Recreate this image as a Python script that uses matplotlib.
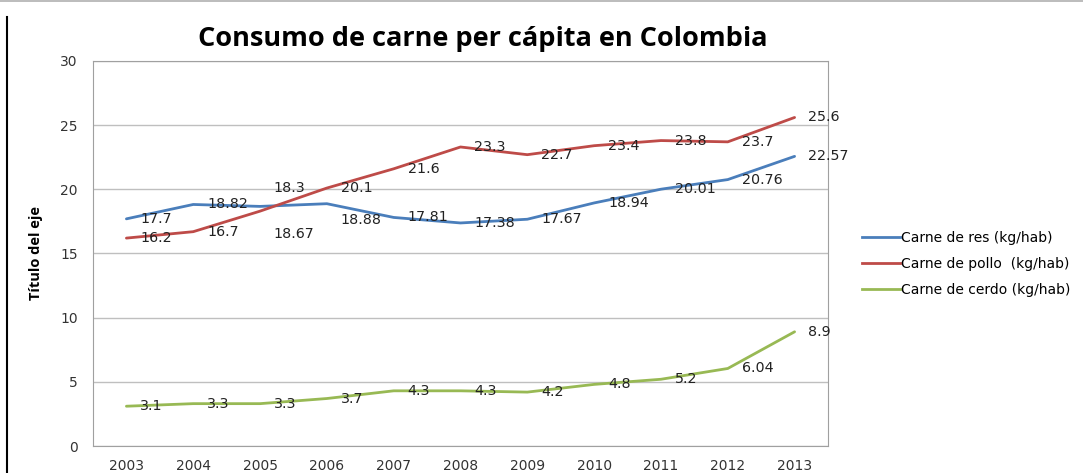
import matplotlib.pyplot as plt
from matplotlib.lines import Line2D

years = ['2003', '2004', '2005', '2006', '2007', '2008', '2009', '2010', '2011', '2012', '2013']
res = [17.7, 18.82, 18.67, 18.88, 17.81, 17.38, 17.67, 18.94, 20.01, 20.76, 22.57]
pollo = [16.2, 16.7, 18.3, 20.1, 21.6, 23.3, 22.7, 23.4, 23.8, 23.7, 25.6]
cerdo = [3.1, 3.3, 3.3, 3.7, 4.3, 4.3, 4.2, 4.8, 5.2, 6.04, 8.9]
names = ['Carne de res (kg/hab)', 'Carne de pollo  (kg/hab)', 'Carne de cerdo (kg/hab)']
colors = ['#4A7EBB', '#BE4B48', '#98B954']

# label offsets in points (a few labels were moved by hand in the original)
special = {(0, 2): (10, -20), (0, 3): (10, -12), (1, 2): (10, 17)}

fig = plt.figure(figsize=(10.83, 4.73), dpi=100)
ax = fig.add_axes([93 / 1083, 1 - 446 / 473, (828 - 93) / 1083, (446 - 61) / 473])

x = range(len(years))
for s, (vals, name, c) in enumerate(zip([res, pollo, cerdo], names, colors)):
    ax.plot(x, vals, color=c, linewidth=2, label=name, solid_capstyle='round')
    for i, v in enumerate(vals):
        dx, dy = special.get((s, i), (10, 0))
        ax.annotate(f'{v:g}', (i, v), xytext=(dx, dy), textcoords='offset points',
                    ha='left', va='center', fontsize=10.3, color='#222222')

ax.set_xlim(-0.5, len(years) - 0.5)
ax.set_ylim(0, 30)
ax.set_yticks(range(0, 31, 5))
ax.set_xticks(list(x))
ax.set_xticklabels(years)
ax.tick_params(length=0, labelsize=10, colors='#333333', pad=9)
ax.tick_params(axis='y', pad=11)
ax.grid(axis='y', color='#BFBFBF', linewidth=1)
ax.set_axisbelow(True)
for sp in ax.spines.values():
    sp.set_color('#A0A0A0')

ax.set_ylabel('Título del eje', fontsize=10.5, fontweight='bold', family='Open Sans', labelpad=12)
fig.text(0.446, 0.918, 'Consumo de carne per cápita en Colombia', ha='center', va='center',
         fontsize=19.5, fontweight='bold', family='Open Sans')

handles = [Line2D([], [], color=c, linewidth=2) for c in colors]
fig.legend(handles, names, loc='center left', bbox_to_anchor=(850 / 1083, 1 - 264 / 473),
           frameon=False, fontsize=10, handlelength=2.7, handletextpad=0.1, labelspacing=0.85)

# page border lines
fig.add_artist(Line2D([0, 1], [1 - 1 / 473, 1 - 1 / 473], color='#B0B0B0', linewidth=1.2))
fig.add_artist(Line2D([7 / 1083, 7 / 1083], [0, 1 - 17 / 473], color='black', linewidth=1.5))

fig.savefig('out.png', dpi=100)
